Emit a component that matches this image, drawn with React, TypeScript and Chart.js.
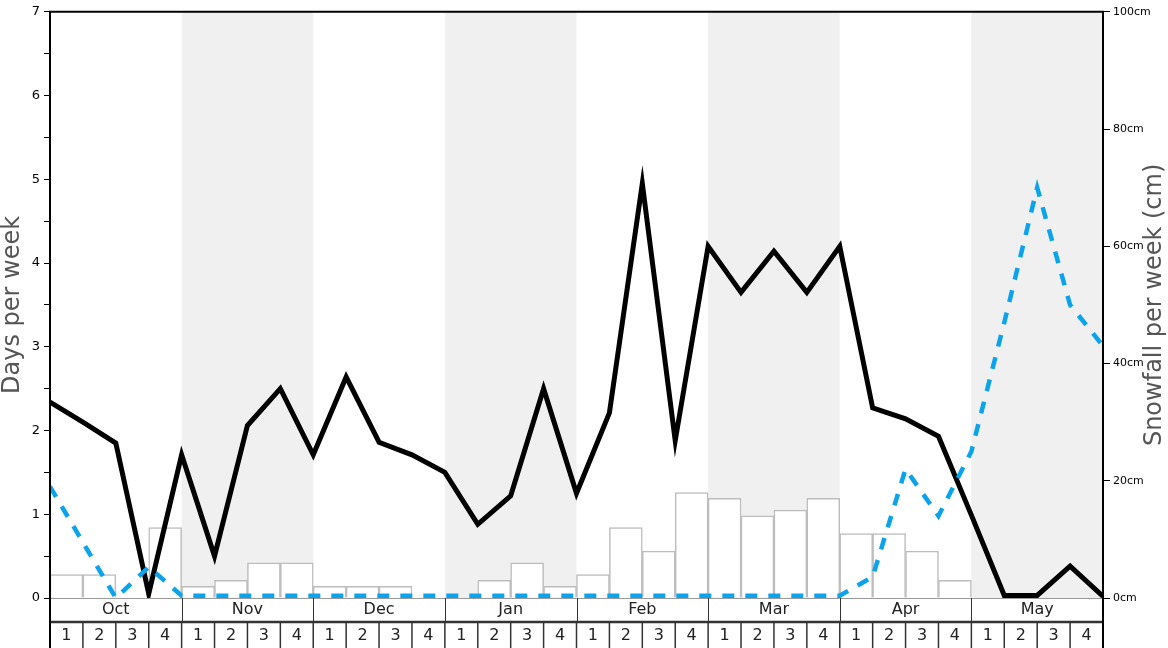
import React, { useEffect, useRef } from 'react';
import { Chart, registerables } from 'chart.js';
Chart.register(...registerables);

const months = ['Oct', 'Nov', 'Dec', 'Jan', 'Feb', 'Mar', 'Apr', 'May'];
const weekLabels = ['1', '2', '3', '4'];
// weekly snowfall bars (cm, right axis)
const snowfallBars = [4, 4, 0, 12, 2, 3, 6, 6, 2, 2, 2, 0, 0, 3, 6, 2, 4, 12, 8, 18, 17, 14, 15, 17, 11, 11, 8, 3, 0, 0, 0, 0];
// black line: days per week (left axis), values at week boundaries
const daysLine = [2.34, 2.1, 1.85, 0.05, 1.71, 0.5, 2.06, 2.5, 1.71, 2.64, 1.86, 1.71, 1.5, 0.88, 1.22, 2.5, 1.25, 2.21, 4.95, 1.88, 4.2, 3.65, 4.14, 3.65, 4.2, 2.27, 2.14, 1.93, 0.99, 0.03, 0.03, 0.38, 0.02];
// blue dashed line: snowfall (cm, right axis), values at week boundaries
const blueLine = [19, 9.5, 0, 5.3, 0.4, 0.4, 0.4, 0.4, 0.4, 0.4, 0.4, 0.4, 0.4, 0.4, 0.4, 0.4, 0.4, 0.4, 0.4, 0.4, 0.4, 0.4, 0.4, 0.4, 0.4, 3.6, 22, 14, 25, 47, 70, 50, 43];
const leftMax = 7;
const rightMax = 100;
const leftTitle = 'Days per week';
const rightTitle = 'Snowfall per week (cm)';

const FONT = '"DejaVu Sans", sans-serif';

export default function App() {
  const ref = useRef<HTMLCanvasElement>(null);
  useEffect(() => {
    document.body.style.margin = '0';
    document.body.style.overflow = 'hidden';
    const nWeeks = snowfallBars.length;

    const overlay = {
      id: 'overlay',
      beforeDatasetsDraw(chart: any) {
        const { ctx, chartArea: ca, scales } = chart;
        const xs = scales.x;
        ctx.save();
        ctx.fillStyle = '#f0f0f0';
        months.forEach((_m, k) => {
          if (k % 2 === 1) {
            const x0 = xs.getPixelForValue(k * 4);
            const x1 = xs.getPixelForValue(k * 4 + 4);
            ctx.fillRect(x0, ca.top, x1 - x0, ca.bottom - ca.top);
          }
        });
        ctx.restore();
      },
      afterDraw(chart: any) {
        const { ctx, chartArea: ca, scales, height } = chart;
        const xs = scales.x;
        const top = ca.bottom;
        const mid = top + 24;
        const bot = height;
        ctx.save();
        ctx.fillStyle = '#fff';
        ctx.fillRect(ca.left, top, ca.right - ca.left, bot - top);
        // zero line
        ctx.strokeStyle = '#9a9a9a';
        ctx.lineWidth = 1;
        ctx.beginPath();
        ctx.moveTo(ca.left, top + 0.5);
        ctx.lineTo(ca.right, top + 0.5);
        ctx.stroke();
        // month separators + labels
        ctx.strokeStyle = '#333';
        ctx.lineWidth = 1;
        ctx.fillStyle = '#222';
        ctx.font = `16px ${FONT}`;
        ctx.textAlign = 'center';
        ctx.textBaseline = 'middle';
        months.forEach((m, k) => {
          const x0 = xs.getPixelForValue(k * 4);
          const x1 = xs.getPixelForValue(k * 4 + 4);
          ctx.beginPath();
          ctx.moveTo(Math.round(x0) + 0.5, top);
          ctx.lineTo(Math.round(x0) + 0.5, mid);
          ctx.stroke();
          ctx.fillText(m, (x0 + x1) / 2, top + 12);
        });
        // mid line
        ctx.lineWidth = 2.5;
        ctx.beginPath();
        ctx.moveTo(ca.left, mid);
        ctx.lineTo(ca.right, mid);
        ctx.stroke();
        // week cells
        ctx.lineWidth = 1.5;
        for (let i = 0; i < nWeeks; i++) {
          const x0 = xs.getPixelForValue(i);
          const x1 = xs.getPixelForValue(i + 1);
          ctx.beginPath();
          ctx.moveTo(x0, mid);
          ctx.lineTo(x0, bot);
          ctx.stroke();
          ctx.fillText(weekLabels[i % 4], (x0 + x1) / 2, mid + 14);
        }
        // frame
        ctx.strokeStyle = '#000';
        ctx.lineWidth = 2;
        ctx.beginPath();
        ctx.moveTo(ca.left, bot);
        ctx.lineTo(ca.left, ca.top);
        ctx.lineTo(ca.right, ca.top);
        ctx.lineTo(ca.right, bot);
        ctx.stroke();
        // titles
        ctx.fillStyle = '#555';
        ctx.font = `24px ${FONT}`;
        const cy = (ca.top + ca.bottom) / 2;
        ctx.save();
        ctx.translate(13, cy);
        ctx.rotate(-Math.PI / 2);
        ctx.fillText(leftTitle, 0, 0);
        ctx.restore();
        ctx.save();
        ctx.translate(1155, cy);
        ctx.rotate(-Math.PI / 2);
        ctx.fillText(rightTitle, 0, 0);
        ctx.restore();
        ctx.restore();
      },
    };

    const chart = new Chart(ref.current!, {
      type: 'bar',
      data: {
        datasets: [
          {
            type: 'line',
            data: blueLine.map((v, i) => ({ x: i, y: v })),
            yAxisID: 'yR',
            borderColor: '#0aa3ec',
            borderWidth: 4.5,
            borderDash: [12, 11],
            pointRadius: 0,
            tension: 0,
            order: 0,
          } as any,
          {
            type: 'line',
            data: daysLine.map((v, i) => ({ x: i, y: v })),
            yAxisID: 'y',
            borderColor: '#000',
            borderWidth: 5,
            pointRadius: 0,
            tension: 0,
            order: 1,
          } as any,
          {
            type: 'bar',
            data: snowfallBars.map((v, i) => ({ x: i + 0.5, y: v })),
            yAxisID: 'yR',
            backgroundColor: '#fff',
            borderColor: '#bdbdbd',
            borderWidth: 1.5,
            barPercentage: 1,
            categoryPercentage: 1,
            order: 2,
          } as any,
        ],
      },
      options: {
        animation: false,
        responsive: false,
        devicePixelRatio: 1,
        layout: { padding: { top: 10, bottom: 50, left: 0, right: 0 } },
        plugins: { legend: { display: false }, tooltip: { enabled: false } },
        scales: {
          x: { type: 'linear', min: 0, max: nWeeks, offset: false, bounds: 'ticks', display: false },
          y: {
            position: 'left',
            min: 0,
            max: leftMax,
            ticks: {
              stepSize: 0.5,
              autoSkip: false,
              callback: (v: any) => (Number.isInteger(v) ? String(v) : ''),
              font: { family: FONT, size: 13 },
              color: '#000',
              padding: 4,
            },
            grid: { drawOnChartArea: false, tickLength: 6, color: '#000', tickWidth: 1 },
            border: { display: false },
            afterFit: (s: any) => { s.width = 50; },
          },
          yR: {
            position: 'right',
            min: 0,
            max: rightMax,
            ticks: {
              stepSize: 20,
              callback: (v: any) => `${v}cm`,
              font: { family: FONT, size: 11 },
              color: '#000',
              padding: 3,
            },
            grid: { drawOnChartArea: false, tickLength: 7, color: '#000', tickWidth: 1 },
            border: { display: false },
            afterFit: (s: any) => { s.width = 65; },
          },
        },
      } as any,
      plugins: [overlay],
    });
    return () => chart.destroy();
  }, []);
  return (
    <div style={{ width: 1168, height: 648 }}>
      <canvas ref={ref} width={1168} height={648} style={{ display: 'block' }} />
    </div>
  );
}
